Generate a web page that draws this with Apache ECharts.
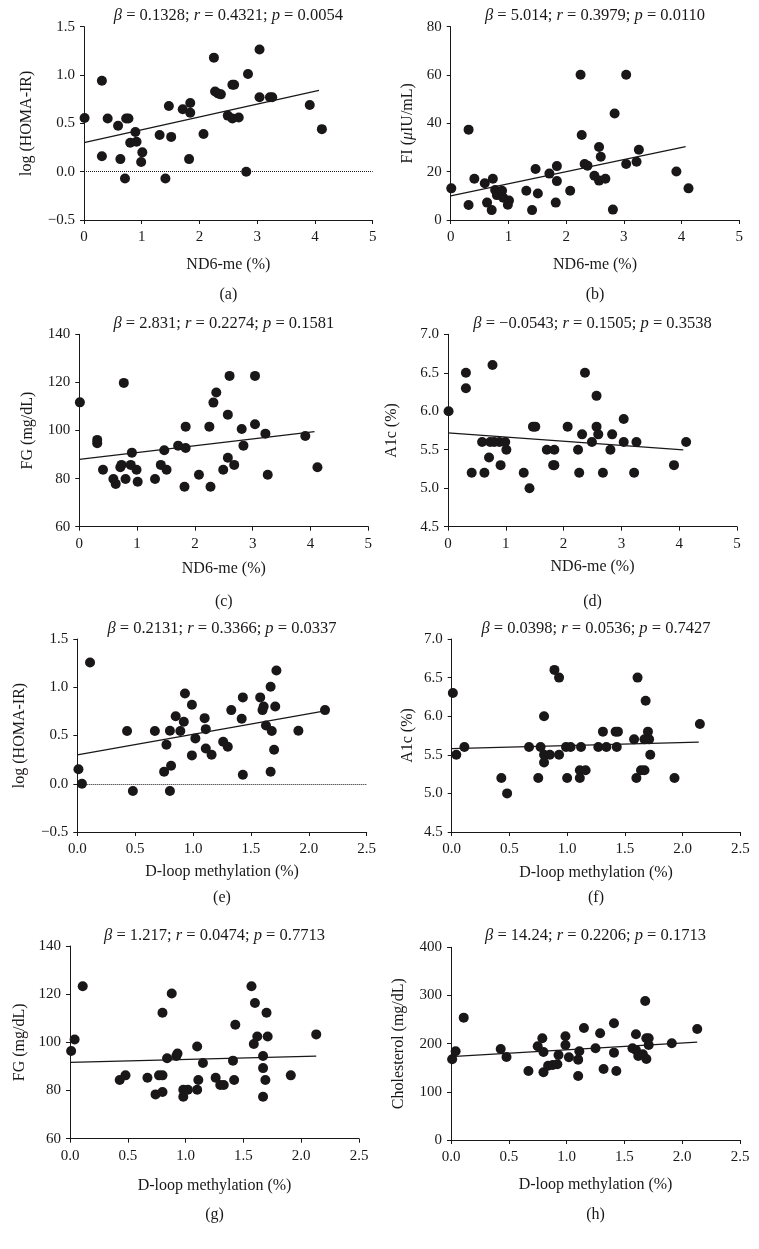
<!DOCTYPE html>
<html>
<head>
	<meta charset="utf-8" />
	<title>ND6 / D-loop methylation scatter panels</title>
	<script src="https://cdn.jsdelivr.net/npm/echarts@6/dist/echarts.min.js"></script>
	<style>
		html, body { margin: 0; padding: 0; background: #fff; }
		#container { width: 759px; height: 1249px; }
	</style>
</head>
<body>
<div id="container"></div>
<script>
	// ND6-me (%) -- same 40 subjects in panels a-d
	var nd6 = [0.01, 0.31, 0.31, 0.41, 0.59, 0.63, 0.71, 0.73, 0.77, 0.80, 0.89, 0.91, 1.01, 0.99, 1.31, 1.47, 1.51, 1.41, 1.71, 1.84,
		1.84, 1.82, 2.07, 2.25, 2.27, 2.32, 2.37, 2.49, 2.57, 2.57, 2.60, 2.68, 2.81, 2.84, 3.04, 3.04, 3.22, 3.26, 3.91, 4.12];
	var logHomaA = [0.555, 0.94, 0.16, 0.55, 0.475, 0.13, -0.07, 0.55, 0.55, 0.30, 0.41, 0.31, 0.20, 0.10, 0.38, 0.68, 0.36, -0.07, 0.645, 0.71,
		0.61, 0.13, 0.39, 1.18, 0.83, 0.81, 0.80, 0.58, 0.55, 0.90, 0.90, 0.56, 0.0, 1.01, 1.265, 0.77, 0.77, 0.77, 0.69, 0.44];
	var fiB = [13.1, 37.4, 6.2, 17.1, 15.2, 7.2, 4.1, 17.1, 12.4, 10.3, 12.1, 9.2, 8.1, 6.3, 12.1, 21.1, 11.0, 4.1, 19.2, 22.3,
		16.1, 7.2, 12.1, 60.1, 35.2, 23.2, 22.5, 18.3, 16.3, 30.2, 26.2, 17.1, 4.3, 44.1, 60.1, 23.2, 24.1, 29.1, 20.1, 13.1];
	var fgC = [111.7, 96.1, 94.7, 83.7, 79.8, 77.8, 84.7, 85.7, 119.8, 79.8, 85.7, 90.8, 78.7, 83.7, 79.8, 91.8, 83.7, 85.7, 93.7, 92.7,
		101.6, 76.6, 81.6, 101.6, 76.6, 111.6, 115.8, 83.7, 88.7, 106.6, 122.7, 85.7, 100.6, 93.7, 122.7, 102.6, 98.7, 81.6, 97.7, 84.7];
	var a1cD = [6.0, 6.5, 6.3, 5.2, 5.6, 5.2, 5.4, 5.6, 6.6, 5.6, 5.6, 5.3, 5.5, 5.6, 5.2, 5.8, 5.8, 5.0, 5.5, 5.5,
		5.3, 5.3, 5.8, 5.5, 5.2, 5.7, 6.5, 5.6, 6.2, 5.8, 5.7, 5.2, 5.5, 5.7, 5.9, 5.6, 5.2, 5.6, 5.3, 5.6];

	// D-loop methylation (%) panels e-h
	var dloopE = [0.01, 0.04, 0.11, 0.43, 0.48, 0.67, 0.75, 0.77, 0.80, 0.80, 0.81, 0.85, 0.89, 0.92, 0.93, 0.99, 0.99, 1.02, 1.10, 1.11,
		1.11, 1.16, 1.26, 1.30, 1.33, 1.42, 1.43, 1.43, 1.58, 1.60, 1.61, 1.63, 1.67, 1.67, 1.68, 1.70, 1.71, 1.72, 1.91, 2.14];
	var logHomaE = [0.15, 0.0, 1.257, 0.546, -0.076, 0.546, 0.124, 0.404, 0.549, -0.076, 0.187, 0.70, 0.546, 0.643, 0.936, 0.294, 0.819, 0.47, 0.68, 0.366,
		0.566, 0.30, 0.435, 0.383, 0.763, 0.673, 0.093, 0.895, 0.895, 0.763, 0.80, 0.604, 1.005, 0.124, 0.546, 0.352, 0.80, 1.174, 0.549, 0.763];
	var dloopF = [0.01, 0.04, 0.11, 0.43, 0.48, 0.67, 0.75, 0.77, 0.80, 0.80, 0.80, 0.85, 0.89, 0.93, 0.93, 1.00, 0.99, 1.03, 1.11, 1.11,
		1.12, 1.16, 1.27, 1.31, 1.34, 1.42, 1.43, 1.44, 1.58, 1.60, 1.61, 1.64, 1.67, 1.68, 1.67, 1.70, 1.71, 1.72, 1.93, 2.15];
	var a1cF = [6.3, 5.5, 5.6, 5.2, 5.0, 5.6, 5.2, 5.6, 6.0, 5.5, 5.4, 5.5, 6.6, 5.5, 6.5, 5.2, 5.6, 5.6, 5.2, 5.3,
		5.6, 5.3, 5.6, 5.8, 5.6, 5.8, 5.6, 5.8, 5.7, 5.2, 6.5, 5.3, 5.3, 6.2, 5.7, 5.8, 5.7, 5.5, 5.2, 5.9];
	var dloopG = [0.01, 0.04, 0.11, 0.43, 0.48, 0.67, 0.74, 0.77, 0.80, 0.80, 0.80, 0.84, 0.88, 0.92, 0.93, 0.98, 0.98, 1.02, 1.10, 1.10,
		1.11, 1.15, 1.26, 1.30, 1.33, 1.41, 1.42, 1.43, 1.57, 1.60, 1.59, 1.62, 1.67, 1.67, 1.67, 1.69, 1.70, 1.71, 1.91, 2.13];
	var fgG = [96.4, 101.2, 123.3, 84.4, 86.3, 85.3, 78.4, 86.3, 86.3, 112.3, 79.4, 93.4, 120.3, 94.3, 95.4, 80.3, 77.4, 80.3, 80.3, 98.3,
		84.4, 91.4, 85.3, 82.3, 82.3, 92.4, 84.4, 107.3, 123.3, 116.3, 99.3, 102.4, 94.3, 77.4, 89.3, 84.4, 112.3, 102.4, 86.3, 103.3];
	var dloopH = [0.01, 0.04, 0.11, 0.43, 0.48, 0.67, 0.75, 0.79, 0.80, 0.80, 0.84, 0.88, 0.92, 0.93, 0.99, 0.99, 1.02, 1.10, 1.10, 1.11,
		1.15, 1.25, 1.29, 1.32, 1.41, 1.41, 1.43, 1.57, 1.60, 1.60, 1.62, 1.66, 1.69, 1.69, 1.71, 1.71, 1.68, 1.91, 2.13];
	var cholH = [167.5, 184.1, 254.0, 188.9, 172.3, 143.3, 194.5, 211.1, 182.7, 140.5, 154.3, 155.7, 157.1, 176.5, 215.2, 197.2, 171.6, 132.9, 166.8, 184.1,
		232.5, 190.3, 221.5, 147.4, 242.2, 181.3, 143.3, 190.3, 219.4, 186.9, 174.4, 177.9, 168.2, 211.1, 211.1, 197.2, 288.6, 200.7, 230.4];

	// regression lines: [intercept, slope, last x]
	var fitA = [0.30, 0.1328, 4.07];
	var fitB = [10.0, 5.014, 4.07];
	var fitC = [88.0, 2.831, 4.07];
	var fitD = [5.72, -0.0543, 4.07];
	var fitE = [0.30, 0.2131, 2.14];
	var fitF = [5.58, 0.0398, 2.14];
	var fitG = [91.7, 1.217, 2.13];
	var fitH = [173.0, 14.24, 2.13];

	var statsText = [
		'{i|β} = 0.1328; {i|r} = 0.4321; {i|p} = 0.0054',
		'{i|β} = 5.014; {i|r} = 0.3979; {i|p} = 0.0110',
		'{i|β} = 2.831; {i|r} = 0.2274; {i|p} = 0.1581',
		'{i|β} = −0.0543; {i|r} = 0.1505; {i|p} = 0.3538',
		'{i|β} = 0.2131; {i|r} = 0.3366; {i|p} = 0.0337',
		'{i|β} = 0.0398; {i|r} = 0.0536; {i|p} = 0.7427',
		'{i|β} = 1.217; {i|r} = 0.0474; {i|p} = 0.7713',
		'{i|β} = 14.24; {i|r} = 0.2206; {i|p} = 0.1713'
	];
	var panelLetters = ['(a)', '(b)', '(c)', '(d)', '(e)', '(f)', '(g)', '(h)'];
	var yNames = ['log (HOMA-IR)', 'FI ({i|μ}IU/mL)', 'FG (mg/dL)', 'A1c (%)', 'log (HOMA-IR)', 'A1c (%)', 'FG (mg/dL)', 'Cholesterol (mg/dL)'];
	var xNames = ['ND6-me (%)', 'ND6-me (%)', 'ND6-me (%)', 'ND6-me (%)',
		'D-loop methylation (%)', 'D-loop methylation (%)', 'D-loop methylation (%)', 'D-loop methylation (%)'];

	var FONT = '"Liberation Serif", "Times New Roman", "DejaVu Serif", serif';
	var INK = '#1a1718';

	// layout / scale per panel
	var panels = [
		{x: nd6, y: logHomaA, fit: fitA, grid: {left: 84, top: 26.7, width: 288.7, height: 193.3},
			xr: [0, 5, 1, 0], yr: [-0.5, 1.5, 0.5, 1], zero: true, yGap: 49, xGap: 37, titleTop: 7, letterTop: 287},
		{x: nd6, y: fiB, fit: fitB, grid: {left: 450.7, top: 26.7, width: 288.6, height: 193.3},
			xr: [0, 5, 1, 0], yr: [0, 80, 20, 0], yGap: 35, xGap: 37, titleTop: 7, letterTop: 287},
		{x: nd6, y: fgC, fit: fitC, grid: {left: 79.3, top: 334.3, width: 289, height: 192.4},
			xr: [0, 5, 1, 0], yr: [60, 140, 20, 0], yGap: 44, xGap: 34, titleTop: 315, letterTop: 594},
		{x: nd6, y: a1cD, fit: fitD, grid: {left: 448, top: 334.3, width: 289, height: 192.4},
			xr: [0, 5, 1, 0], yr: [4.5, 7.0, 0.5, 1], yGap: 48, xGap: 32, titleTop: 315, letterTop: 594},
		{x: dloopE, y: logHomaE, fit: fitE, grid: {left: 77.3, top: 639, width: 289.4, height: 193},
			xr: [0, 2.5, 0.5, 1], yr: [-0.5, 1.5, 0.5, 1], zero: true, yGap: 50, xGap: 32, titleTop: 620, letterTop: 890},
		{x: dloopF, y: a1cF, fit: fitF, grid: {left: 451.7, top: 639, width: 288.6, height: 193},
			xr: [0, 2.5, 0.5, 1], yr: [4.5, 7.0, 0.5, 1], yGap: 36, xGap: 33, titleTop: 620, letterTop: 890},
		{x: dloopG, y: fgG, fit: fitG, grid: {left: 70, top: 946, width: 289, height: 192.7},
			xr: [0, 2.5, 0.5, 1], yr: [60, 140, 20, 0], yGap: 42, xGap: 39, titleTop: 927, letterTop: 1207},
		{x: dloopH, y: cholH, fit: fitH, grid: {left: 451, top: 947.3, width: 289, height: 192.7},
			xr: [0, 2.5, 0.5, 1], yr: [0, 400, 100, 0], yGap: 44, xGap: 37, titleTop: 927, letterTop: 1207}
	];

	function fmt(dec) {
		return function (v) {
			var s = Math.abs(v).toFixed(dec);
			return v < -1e-9 ? '−' + s : s;
		};
	}

	function axisBase() {
		return {
			type: 'value',
			splitLine: {show: false},
			axisLine: {show: true, onZero: false, lineStyle: {color: INK, width: 1}},
			axisTick: {show: true, inside: false, length: 4, lineStyle: {color: INK, width: 1}},
			nameLocation: 'middle',
			nameTextStyle: {fontFamily: FONT, fontSize: 16, color: INK,
				rich: {i: {fontFamily: FONT, fontSize: 16, color: INK, fontStyle: 'italic'}}}
		};
	}

	var grid = [], xAxis = [], yAxis = [], series = [], title = [];

	panels.forEach(function (p, k) {
		var g = p.grid;
		grid.push({left: g.left, top: g.top, width: g.width, height: g.height, containLabel: false, outerBoundsMode: 'none'});

		var xa = axisBase();
		xa.gridIndex = k;
		xa.min = p.xr[0]; xa.max = p.xr[1]; xa.interval = p.xr[2];
		xa.name = xNames[k];
		xa.nameGap = p.xGap;
		xa.axisLabel = {fontFamily: FONT, fontSize: 15, color: INK, margin: 10, formatter: fmt(p.xr[3])};
		xAxis.push(xa);

		var ya = axisBase();
		ya.gridIndex = k;
		ya.min = p.yr[0]; ya.max = p.yr[1]; ya.interval = p.yr[2];
		ya.name = yNames[k];
		ya.nameGap = p.yGap;
		ya.nameRotate = 90;
		ya.axisLabel = {fontFamily: FONT, fontSize: 15, color: INK, margin: 9, formatter: fmt(p.yr[3])};
		yAxis.push(ya);

		var pts = p.x.map(function (v, i) { return [v, p.y[i]]; });
		var sc = {
			type: 'scatter',
			xAxisIndex: k, yAxisIndex: k,
			data: pts,
			symbol: 'circle',
			symbolSize: 10,
			itemStyle: {color: INK, opacity: 1},
			silent: true
		};
		if (p.zero) {
			sc.markLine = {
				silent: true, symbol: 'none', animation: false,
				label: {show: false},
				lineStyle: {type: 'dotted', color: INK, width: 1},
				data: [{yAxis: 0}]
			};
		}
		series.push(sc);

		var b = p.fit[0], m = p.fit[1], xe = p.fit[2];
		series.push({
			type: 'line',
			xAxisIndex: k, yAxisIndex: k,
			data: [[0, b], [xe, b + m * xe]],
			showSymbol: false,
			symbol: 'none',
			lineStyle: {color: INK, width: 1.3},
			silent: true,
			z: 1
		});

		var cx = g.left + g.width / 2;
		title.push({
			text: statsText[k],
			left: cx, top: p.titleTop, textAlign: 'center', padding: 0,
			textStyle: {fontFamily: FONT, fontSize: 16.5, fontWeight: 'normal', color: INK,
				rich: {i: {fontFamily: FONT, fontSize: 16.5, fontWeight: 'normal', color: INK, fontStyle: 'italic'}}}
		});
		title.push({
			text: panelLetters[k],
			left: cx, top: p.letterTop, textAlign: 'center', padding: 0,
			textStyle: {fontFamily: FONT, fontSize: 16, fontWeight: 'normal', color: INK}
		});
	});

	var chart = echarts.init(document.getElementById('container'), null, {renderer: 'canvas'});
	chart.setOption({
		backgroundColor: '#fff',
		animation: false,
		title: title,
		grid: grid,
		xAxis: xAxis,
		yAxis: yAxis,
		series: series
	});
</script>
</body>
</html>
